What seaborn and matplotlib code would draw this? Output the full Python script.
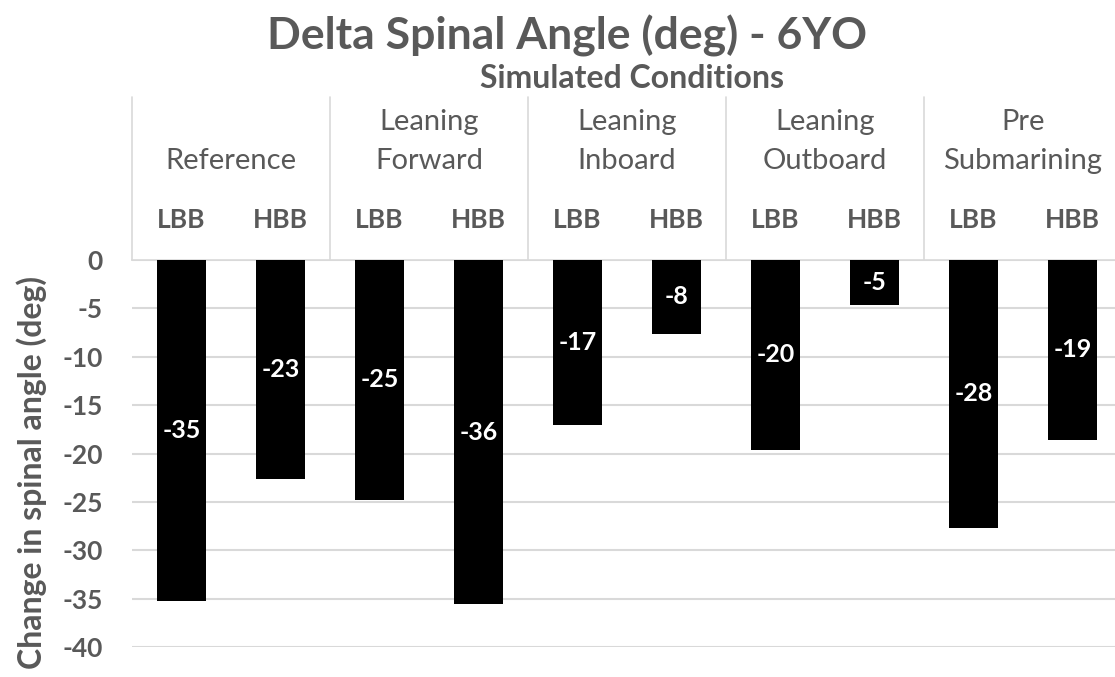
import matplotlib
matplotlib.use('Agg')
import matplotlib.pyplot as plt
import matplotlib.transforms as mtransforms
import pandas as pd
import seaborn as sns

# Data
conditions = ['Reference', 'Leaning\nForward', 'Leaning\nInboard', 'Leaning\nOutboard', 'Pre\nSubmarining']
belts = ['LBB', 'HBB']
lbb_values = [-35.2, -24.8, -17.1, -19.6, -27.7]
hbb_values = [-22.6, -35.6, -7.6, -4.6, -18.6]
y_ticks = [0, -5, -10, -15, -20, -25, -30, -35, -40]
y_tick_labels = ['0', '-5', '-10', '-15', '-20', '-25', '-30', '-35', '-40']

rows = []
for cond, lv, hv in zip(conditions, lbb_values, hbb_values):
    rows.append({'condition': cond, 'belt': 'LBB', 'angle': lv})
    rows.append({'condition': cond, 'belt': 'HBB', 'angle': hv})
df = pd.DataFrame(rows)
df['bar'] = df['condition'] + ' ' + df['belt']

sns.set_style('white')
plt.rcParams['font.family'] = ['Lato', 'DejaVu Sans']
text_color = '#595959'
grid_color = '#d9d9d9'

fig = plt.figure(figsize=(11.15, 6.77), dpi=100)
ax = fig.add_axes([132 / 1115, 30 / 677, 990 / 1115, 387 / 677])

sns.barplot(data=df, x='bar', y='angle', order=list(df['bar']), color='black',
            width=0.5, errorbar=None, edgecolor='black', linewidth=0, ax=ax, zorder=3)

ax.set_ylim(-40, 0)
ax.set_xlim(-0.5, len(df) - 0.5)
ax.set_yticks(y_ticks)
ax.set_yticklabels(y_tick_labels, fontsize=19, fontweight='bold', color=text_color)
ax.tick_params(axis='y', length=0, pad=21)
ax.yaxis.grid(True, color=grid_color, linewidth=1.5, zorder=0)
ax.set_axisbelow(True)

# lower level categories on top
ax.xaxis.tick_top()
ax.set_xticks(range(len(df)))
ax.set_xticklabels(df['belt'], fontsize=19, fontweight='bold', color=text_color)
ax.tick_params(axis='x', length=0, pad=20)
ax.set_xlabel('')
ax.set_ylabel('Change in spinal angle (deg)', fontsize=23, fontweight='bold', color=text_color)
ax.yaxis.set_label_coords(-0.086, 0.45)

for side in ['left', 'right', 'bottom']:
    ax.spines[side].set_visible(False)
ax.spines['top'].set_color(grid_color)
ax.spines['top'].set_linewidth(1.2)

# value labels
ax.bar_label(ax.containers[0], fmt='{:.0f}', label_type='center', color='white',
             fontsize=18, fontweight='bold')

# group labels and separators
trans = mtransforms.blended_transform_factory(ax.transData, ax.transAxes)
for i, cond in enumerate(conditions):
    ax.text(2 * i + 0.5, 1.222, cond, transform=trans, ha='center', va='bottom',
            fontsize=21, color=text_color, linespacing=1.62)
    ax.axvline(2 * i - 0.5, ymin=1.0, ymax=1.42, color=grid_color, linewidth=1.2, clip_on=False)
ax.axvline(len(df) - 0.5, ymin=1.0, ymax=1.42, color=grid_color, linewidth=1.2, clip_on=False)

ax.text(0.505, 1.47, 'Simulated Conditions', transform=ax.transAxes, ha='center', va='center',
        fontsize=23, fontweight='bold', color=text_color)
fig.text(567 / 1115, 1 - 36 / 677, 'Delta Spinal Angle (deg) - 6YO', ha='center', va='center',
         fontsize=32, fontweight='bold', color=text_color)

fig.savefig('out.png', dpi=100)
